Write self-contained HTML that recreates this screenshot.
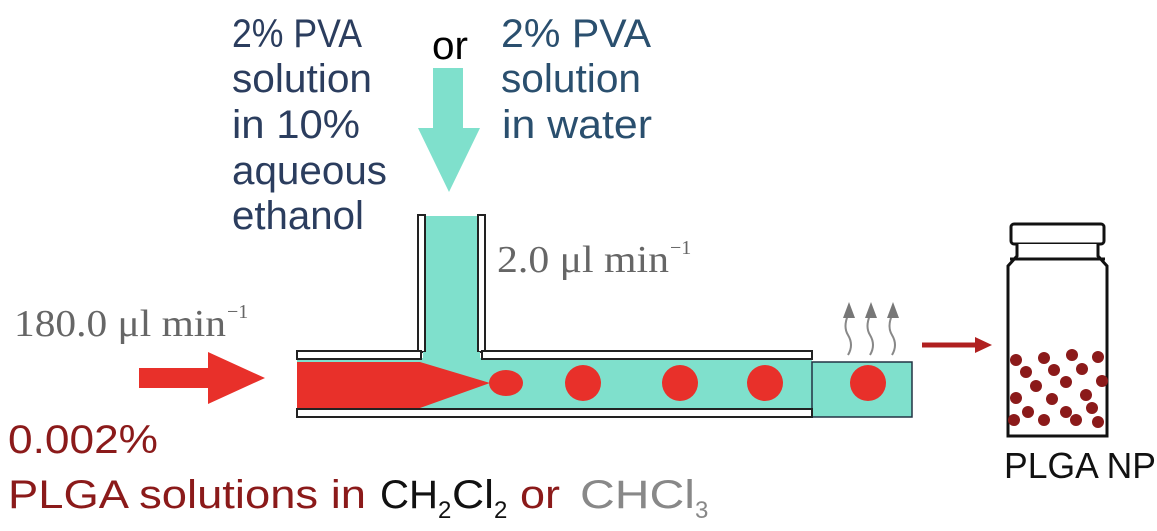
<!DOCTYPE html>
<html><head><meta charset="utf-8"><style>html,body{margin:0;padding:0;background:#fff}svg{display:block}</style></head>
<body>
<svg width="1157" height="531" viewBox="0 0 1157 531" xmlns="http://www.w3.org/2000/svg">
<g font-family="Liberation Sans, Arial, sans-serif" font-size="40" fill="#2b3d5e">
<text x="232" y="47" textLength="130" lengthAdjust="spacingAndGlyphs">2% PVA</text>
<text x="232" y="92" textLength="140" lengthAdjust="spacingAndGlyphs">solution</text>
<text x="232" y="138" textLength="128" lengthAdjust="spacingAndGlyphs">in 10%</text>
<text x="232" y="184" textLength="155" lengthAdjust="spacingAndGlyphs">aqueous</text>
<text x="232" y="229" textLength="132" lengthAdjust="spacingAndGlyphs">ethanol</text>
<text x="432" y="59" fill="#000" textLength="36" lengthAdjust="spacingAndGlyphs">or</text>
<text x="501" y="47" fill="#2a4f6e" textLength="150" lengthAdjust="spacingAndGlyphs">2% PVA</text>
<text x="501" y="92" fill="#2a4f6e" textLength="140" lengthAdjust="spacingAndGlyphs">solution</text>
<text x="502" y="138" fill="#2a4f6e" textLength="150" lengthAdjust="spacingAndGlyphs">in water</text>
</g>
<polygon points="433,68 463,68 463,128 480,128 449,192 418,128 433,128" fill="#7fe0cc"/>
<rect x="424" y="216" width="56" height="150" fill="#7fe0cc"/>
<rect x="418" y="215" width="7" height="137" fill="#fff" stroke="#222" stroke-width="2"/>
<rect x="478" y="215" width="7" height="137" fill="#fff" stroke="#222" stroke-width="2"/>
<rect x="297" y="358" width="515" height="52" fill="#7fe0cc"/>
<rect x="812" y="362" width="100" height="55" fill="#7fe0cc" stroke="#234" stroke-width="1.5"/>
<path d="M297,362 L420,362 L490,383 L420,408 L297,408 Z" fill="#e8302a"/>
<ellipse cx="506" cy="383" rx="17" ry="13" fill="#e8302a"/>
<circle cx="583" cy="383" r="18" fill="#e8302a"/>
<circle cx="680" cy="383" r="18" fill="#e8302a"/>
<circle cx="765" cy="383" r="18" fill="#e8302a"/>
<circle cx="868" cy="383" r="18" fill="#e8302a"/>
<rect x="297" y="351" width="124" height="8" fill="#fff" stroke="#222" stroke-width="2"/>
<rect x="482" y="351" width="330" height="8" fill="#fff" stroke="#222" stroke-width="2"/>
<rect x="297" y="409" width="515" height="8" fill="#fff" stroke="#222" stroke-width="2"/>
<rect x="423" y="352" width="57" height="8" fill="#7fe0cc"/>
<polygon points="139,368 208,368 208,352 265,378 208,404 208,388 139,388" fill="#e8302a"/>
<g stroke="#888" stroke-width="2" fill="none">
<path d="M848,355 q6,-10 0,-20 q-5,-8 0,-20"/>
<path d="M870,355 q6,-10 0,-20 q-5,-8 0,-20"/>
<path d="M892,355 q6,-10 0,-20 q-5,-8 0,-20"/>
</g>
<g fill="#777">
<polygon points="843,318 849,302 855,318"/>
<polygon points="865,318 871,302 877,318"/>
<polygon points="887,318 893,302 899,318"/>
</g>
<line x1="922" y1="345" x2="978" y2="345" stroke="#b02020" stroke-width="5"/>
<polygon points="975,337 992,345 975,353" fill="#b02020"/>
<g stroke="#111" stroke-width="3" fill="#fff">
<rect x="1011" y="224" width="93" height="20" rx="3"/>
<path d="M1017,244 L1017,256 L1008,266 L1008,436 L1107,436 L1107,266 L1098,256 L1098,244"/>
<line x1="1010" y1="259" x2="1105" y2="259"/>
</g>
<g fill="#8b1a1a">
<circle cx="1016" cy="360" r="6"/><circle cx="1044" cy="358" r="6"/><circle cx="1072" cy="355" r="6"/><circle cx="1098" cy="357" r="6"/>
<circle cx="1026" cy="372" r="6"/><circle cx="1054" cy="370" r="6"/><circle cx="1082" cy="369" r="6"/><circle cx="1102" cy="381" r="6"/>
<circle cx="1036" cy="386" r="6"/><circle cx="1066" cy="382" r="6"/><circle cx="1086" cy="395" r="6"/>
<circle cx="1016" cy="398" r="6"/><circle cx="1052" cy="399" r="6"/>
<circle cx="1028" cy="412" r="6"/><circle cx="1066" cy="412" r="6"/><circle cx="1092" cy="408" r="6"/>
<circle cx="1014" cy="420" r="6"/><circle cx="1044" cy="420" r="6"/><circle cx="1076" cy="420" r="6"/><circle cx="1098" cy="422" r="6"/>
</g>
<text x="1004" y="478" font-family="Liberation Sans, Arial, sans-serif" font-size="36" fill="#111" textLength="152" lengthAdjust="spacingAndGlyphs">PLGA NP</text>
<g font-family="Liberation Serif, serif" fill="#666" font-size="38">
<text x="14" y="336" textLength="212" lengthAdjust="spacingAndGlyphs">180.0 μl min</text>
<text x="227" y="318" font-size="20">−1</text>
<text x="497" y="272" textLength="172" lengthAdjust="spacingAndGlyphs">2.0 μl min</text>
<text x="670" y="254" font-size="20">−1</text>
</g>
<g font-family="Liberation Sans, Arial, sans-serif" font-size="40">
<text x="8" y="453" fill="#8b1a1a" textLength="150" lengthAdjust="spacingAndGlyphs">0.002%</text>
<text x="8" y="508" fill="#8b1a1a" textLength="358" lengthAdjust="spacingAndGlyphs">PLGA solutions in</text>
<text x="380" y="508" fill="#111" textLength="58" lengthAdjust="spacingAndGlyphs">CH</text>
<text x="438" y="518" fill="#111" font-size="24">2</text>
<text x="452" y="508" fill="#111" textLength="42" lengthAdjust="spacingAndGlyphs">Cl</text>
<text x="494" y="518" fill="#111" font-size="24">2</text>
<text x="520" y="508" fill="#8b1a1a" textLength="40" lengthAdjust="spacingAndGlyphs">or</text>
<text x="580" y="508" fill="#888" textLength="115" lengthAdjust="spacingAndGlyphs">CHCl</text>
<text x="695" y="518" fill="#888" font-size="24">3</text>
</g>
</svg>
</body></html>
